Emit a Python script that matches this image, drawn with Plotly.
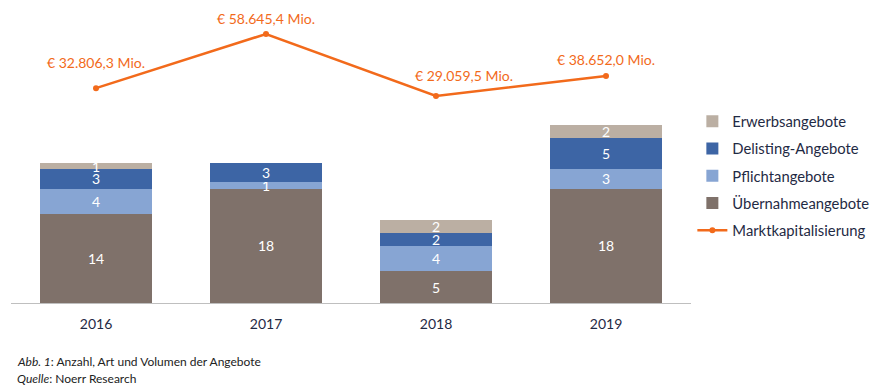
import plotly.graph_objects as go

years = ["2016", "2017", "2018", "2019"]
uebernahme = [14, 18, 5, 18]
pflicht = [4, 1, 4, 3]
delisting = [3, 3, 2, 5]
erwerb = [1, 0, 2, 2]
marktkap = [32806.3, 58645.4, 29059.5, 38652.0]
marktkap_labels = ["€ 32.806,3 Mio.", "€ 58.645,4 Mio.", "€ 29.059,5 Mio.", "€ 38.652,0 Mio."]

label_shift = [(0, 26), (0, 16), (28, 21), (0, 16)]

FONT = "Lato"
NAVY = "#1F2A44"
ORANGE = "#F26A1B"

fig = go.Figure()

series = [
    ("Übernahmeangebote", uebernahme, "#7F716A", 4),
    ("Pflichtangebote", pflicht, "#87A5D3", 3),
    ("Delisting-Angebote", delisting, "#3D65A5", 2),
    ("Erwerbsangebote", erwerb, "#BBAFA3", 1),
]
for name, vals, col, rank in series:
    fig.add_trace(go.Bar(
        x=years, y=vals, name=name, marker=dict(color=col, line=dict(width=0)),
        text=[str(v) if v else "" for v in vals], textposition="inside",
        insidetextanchor="middle", constraintext="none", textangle=0,
        textfont=dict(color="white", size=14, family=FONT),
        legendrank=rank, legendgroup=name, hoverinfo="skip",
    ))

fig.add_trace(go.Scatter(
    x=years, y=marktkap, name="Marktkapitalisierung", yaxis="y2",
    mode="lines+markers", line=dict(color=ORANGE, width=2.5),
    marker=dict(color=ORANGE, size=6), legendrank=5, legendgroup="mk",
))

# annotations on a category axis use the category serial number
for i, (v, lab, (dx, dy)) in enumerate(zip(marktkap, marktkap_labels, label_shift)):
    fig.add_annotation(x=i, y=v, yref="y2", text=lab, showarrow=False,
                       xshift=dx, yshift=dy, font=dict(color=ORANGE, size=14, family=FONT))

footer = ["<i>Abb. 1</i>: Anzahl, Art und Volumen der Angebote", "<i>Quelle</i>: Noerr Research"]
for i, line in enumerate(footer):
    fig.add_annotation(xref="paper", yref="paper", x=0, xanchor="left", xshift=4,
                       y=-0.201 - 0.058 * i, yanchor="middle",
                       align="left", showarrow=False, text=line,
                       font=dict(size=12, color="#222222", family=FONT))

fig.update_layout(
    width=871, height=378, barmode="stack", bargap=0.34,
    margin=dict(l=3, r=188, t=2, b=83, autoexpand=False),
    paper_bgcolor="white", plot_bgcolor="white",
    font=dict(family=FONT, color=NAVY),
    xaxis=dict(type="category", showline=True, linecolor="#BFBFBF", linewidth=1, ticks="",
               ticklabelstandoff=8,
               tickfont=dict(size=14, color=NAVY, family=FONT), showgrid=False),
    yaxis=dict(range=[0, 46.07], visible=False, showgrid=False),
    yaxis2=dict(range=[-69695, 70095], overlaying="y", visible=False, showgrid=False),
    legend=dict(x=1.002, xanchor="left", y=0.433, yanchor="middle",
                traceorder="grouped", tracegroupgap=5,
                font=dict(size=14.8, color=NAVY, family=FONT)),
    showlegend=True,
)

fig.write_html("out.html")
